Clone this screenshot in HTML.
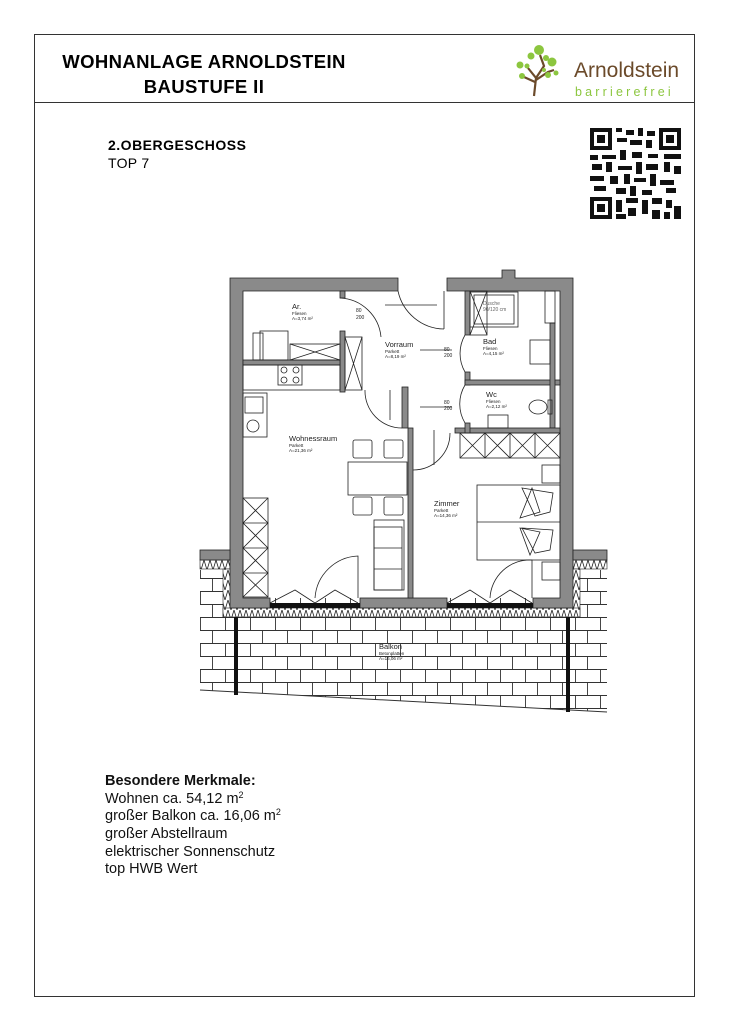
<!DOCTYPE html>
<html><head><meta charset="utf-8"><style>
html,body{margin:0;padding:0;background:#fff;}
svg{display:block;font-family:"Liberation Sans",Arial,sans-serif;}
</style></head><body>
<svg width="729" height="1030" viewBox="0 0 729 1030" xmlns="http://www.w3.org/2000/svg">
<defs>
<pattern id="brick" x="0" y="617" width="50" height="26" patternUnits="userSpaceOnUse">
<rect width="50" height="26" fill="#fff"/>
<path d="M0 0.5H50M0 13.5H50M0.5 0V13M25.5 0V13M12.5 13V26M37.5 13V26" stroke="#333" stroke-width="0.9" fill="none"/>
</pattern>
<pattern id="zig" width="6" height="10" patternUnits="userSpaceOnUse">
<rect width="6" height="10" fill="#fff"/>
<path d="M0 0L3 10L6 0" stroke="#222" stroke-width="0.8" fill="none"/>
</pattern>
</defs>
<rect x="34.5" y="34.5" width="660" height="962" fill="none" stroke="#333" stroke-width="1"/>
<line x1="34" y1="102.5" x2="695" y2="102.5" stroke="#333" stroke-width="1"/>
<text x="204" y="68" text-anchor="middle" font-size="18.5" font-weight="bold" letter-spacing="0.4">WOHNANLAGE ARNOLDSTEIN</text>
<text x="204" y="93" text-anchor="middle" font-size="18.5" font-weight="bold" letter-spacing="0.4">BAUSTUFE II</text>
<!-- logo tree -->
<g>
<path d="M534 96 L536 78 L528 68 M536 78 L544 66 L540 55 M536 80 L548 72 L554 70 M535 82 L524 77" stroke="#6b4a2a" stroke-width="2.2" fill="none"/>
<circle cx="539" cy="50" r="5" fill="#8cc63f"/><circle cx="531" cy="56" r="3.5" fill="#8cc63f"/>
<circle cx="546" cy="58" r="3" fill="#8cc63f"/><circle cx="552" cy="62" r="4.5" fill="#8cc63f"/>
<circle cx="520" cy="65" r="3.5" fill="#8cc63f"/><circle cx="527" cy="66" r="2.5" fill="#8cc63f"/>
<circle cx="522" cy="76" r="3" fill="#8cc63f"/><circle cx="548" cy="75" r="3" fill="#8cc63f"/>
<circle cx="556" cy="73" r="2.5" fill="#8cc63f"/><circle cx="544" cy="70" r="2" fill="#8cc63f"/>
</g>
<text x="574" y="77" font-size="21" fill="#6b4a2a">Arnoldstein</text>
<text x="575" y="96" font-size="12.5" fill="#8cc63f" letter-spacing="3.2">barrierefrei</text>
<text x="108" y="150" font-size="14" font-weight="bold" letter-spacing="0.5">2.OBERGESCHOSS</text>
<text x="108" y="168" font-size="14" letter-spacing="0.3">TOP 7</text>
<!-- QR -->
<g fill="#111">
<rect x="590" y="128" width="22" height="22"/><rect x="594" y="132" width="14" height="14" fill="#fff"/><rect x="597" y="135" width="8" height="8"/>
<rect x="659" y="128" width="22" height="22"/><rect x="663" y="132" width="14" height="14" fill="#fff"/><rect x="666" y="135" width="8" height="8"/>
<rect x="590" y="197" width="22" height="22"/><rect x="594" y="201" width="14" height="14" fill="#fff"/><rect x="597" y="204" width="8" height="8"/>
<rect x="616" y="128" width="6" height="4"/><rect x="626" y="130" width="8" height="5"/><rect x="638" y="128" width="5" height="8"/><rect x="647" y="131" width="8" height="5"/>
<rect x="617" y="138" width="10" height="4"/><rect x="630" y="140" width="12" height="5"/><rect x="646" y="140" width="6" height="8"/>
<rect x="590" y="155" width="8" height="5"/><rect x="602" y="155" width="14" height="4"/><rect x="620" y="150" width="6" height="10"/><rect x="632" y="152" width="10" height="6"/><rect x="648" y="154" width="10" height="4"/><rect x="664" y="154" width="17" height="5"/>
<rect x="592" y="164" width="10" height="6"/><rect x="606" y="162" width="6" height="10"/><rect x="618" y="166" width="14" height="4"/><rect x="636" y="162" width="6" height="12"/><rect x="646" y="164" width="12" height="6"/><rect x="664" y="162" width="6" height="10"/><rect x="674" y="166" width="7" height="8"/>
<rect x="590" y="176" width="14" height="5"/><rect x="610" y="176" width="8" height="8"/><rect x="624" y="174" width="6" height="10"/><rect x="634" y="178" width="12" height="4"/><rect x="650" y="174" width="6" height="12"/><rect x="660" y="180" width="14" height="5"/>
<rect x="594" y="186" width="12" height="5"/><rect x="616" y="188" width="10" height="6"/><rect x="630" y="186" width="6" height="10"/><rect x="642" y="190" width="10" height="5"/><rect x="666" y="188" width="10" height="5"/>
<rect x="616" y="200" width="6" height="12"/><rect x="626" y="198" width="12" height="5"/><rect x="628" y="208" width="8" height="8"/><rect x="642" y="200" width="6" height="14"/><rect x="652" y="198" width="10" height="6"/><rect x="652" y="210" width="8" height="9"/><rect x="666" y="200" width="6" height="8"/><rect x="674" y="206" width="7" height="13"/><rect x="616" y="214" width="10" height="5"/><rect x="664" y="212" width="6" height="7"/>
</g>
<!-- Balcony bricks -->
<polygon points="200,570 607,570 607,712 200,690" fill="url(#brick)"/>
<rect x="243" y="291" width="317" height="307" fill="#fff"/>
<line x1="200" y1="690" x2="607" y2="712" stroke="#333" stroke-width="1"/>
<!-- insulation strips -->
<rect x="200" y="560" width="30" height="9" fill="url(#zig)" stroke="#222" stroke-width="0.6"/>
<rect x="573" y="560" width="34" height="9" fill="url(#zig)" stroke="#222" stroke-width="0.6"/>
<rect x="223" y="569" width="8" height="48" fill="url(#zig)" stroke="#222" stroke-width="0.6"/>
<rect x="572" y="569" width="8" height="48" fill="url(#zig)" stroke="#222" stroke-width="0.6"/>
<rect x="223" y="608" width="357" height="9" fill="url(#zig)" stroke="#222" stroke-width="0.6"/>
<!-- posts -->
<rect x="234" y="617" width="4" height="78" fill="#111"/>
<rect x="566" y="617" width="4" height="95" fill="#111"/>
<!-- walls -->
<g fill="#8a8a8a" stroke="#222" stroke-width="0.8">
<path d="M230 278 H398 V291 H243 V598 H270 V608 H230 Z"/>
<path d="M447 278 H502 V270 H515 V278 H573 V608 H533 V598 H560 V291 H447 Z"/>
<rect x="360" y="598" width="87" height="10"/>
<rect x="200" y="550" width="30" height="10"/>
<rect x="573" y="550" width="34" height="10"/>
<rect x="408" y="428" width="5" height="170"/>
<rect x="402" y="387" width="6" height="41"/>
<rect x="340" y="331" width="5" height="61"/>
<rect x="243" y="360" width="97" height="5"/>
<rect x="465" y="291" width="5" height="44"/>
<rect x="465" y="372" width="5" height="13"/>
<rect x="465" y="380" width="95" height="5"/>
<rect x="550" y="323" width="5" height="105"/>
<rect x="455" y="428" width="105" height="5"/>
<rect x="465" y="423" width="5" height="10"/>
<rect x="340" y="291" width="5" height="7"/>
</g>
<!-- windows -->
<rect x="270" y="603" width="90" height="5" fill="#111"/>
<rect x="447" y="603" width="86" height="5" fill="#111"/>
<g fill="none" stroke="#222" stroke-width="0.8">
<rect x="345" y="337" width="17" height="53"/><path d="M345 337L362 390M362 337L345 390"/>
<rect x="290" y="344" width="50" height="16"/><path d="M290 344L340 360M340 344L290 360"/>
<rect x="253" y="333" width="10" height="27"/><rect x="260" y="331" width="28" height="29"/>
<rect x="243" y="365" width="97" height="25"/>
<rect x="278" y="365" width="24" height="20"/><circle cx="284" cy="370" r="3"/><circle cx="296" cy="370" r="3"/><circle cx="284" cy="380" r="3"/><circle cx="296" cy="380" r="3"/>
<rect x="243" y="393" width="24" height="44"/><rect x="245" y="397" width="18" height="16"/><circle cx="253" cy="426" r="6"/>
<rect x="470" y="291" width="17" height="44"/><path d="M470 291L487 335M487 291L470 335"/>
<rect x="470" y="292" width="48" height="35"/><rect x="474" y="295" width="40" height="29"/>
<rect x="545" y="291" width="10" height="32"/>
<rect x="530" y="340" width="20" height="24"/>
<ellipse cx="538" cy="407" rx="9" ry="7"/><rect x="548" y="400" width="4" height="14"/>
<rect x="488" y="415" width="20" height="13"/>
<rect x="460" y="433" width="100" height="25"/>
<path d="M460 433L485 458M485 433L460 458M485 433L510 458M510 433L485 458M510 433L535 458M535 433L510 458M535 433L560 458M560 433L535 458M485 433V458M510 433V458M535 433V458"/>
<rect x="542" y="465" width="18" height="18"/><rect x="542" y="562" width="18" height="18"/>
<rect x="477" y="485" width="83" height="75"/><line x1="477" y1="522" x2="560" y2="522"/>
<path d="M522 488L553 493L550 512L535 516Z M532 488L520 518L540 512Z"/>
<path d="M522 528L553 530L550 550L535 553Z M520 528L530 555L540 532Z"/>
<rect x="348" y="462" width="59" height="33"/>
<rect x="353" y="440" width="19" height="18" rx="2"/><rect x="384" y="440" width="19" height="18" rx="2"/>
<rect x="353" y="497" width="19" height="18" rx="2"/><rect x="384" y="497" width="19" height="18" rx="2"/>
<rect x="374" y="520" width="30" height="70"/><rect x="374" y="527" width="28" height="63"/><line x1="374" y1="548" x2="402" y2="548"/><line x1="374" y1="569" x2="402" y2="569"/>
<rect x="243" y="498" width="25" height="99"/>
<path d="M243 498L268 523L243 548L268 573L243 597M268 498L243 523L268 548L243 573L268 597M243 523H268M243 548H268M243 573H268"/>
<path d="M398 291 A48 48 0 0 0 444 329 M444 329V291"/>
<path d="M340 298 A43 43 0 0 1 381 337"/>
<path d="M465 335 A37 37 0 0 0 465 372"/>
<path d="M465 385 A37 37 0 0 0 465 423"/>
<path d="M365 390 A37 37 0 0 0 402 428"/>
<path d="M413 470 A37 37 0 0 0 450 433"/>
<path d="M315 598 A45 45 0 0 1 358 556 V598"/>
<path d="M490 598 A40 40 0 0 1 532 560 V598"/>
<path d="M270 603L295 590L315 603M315 603L335 590L358 603"/>
<path d="M447 603L470 590L490 603M490 603L510 590L532 603"/>
<path d="M437 305H385M452 350H420M452 407H420M390 390V420M434 430V465"/>
</g>
<g fill="#222">
<text x="292" y="309" font-size="7.5">Ar.</text>
<text x="292" y="315" font-size="4.5">Fliesen</text><text x="292" y="320" font-size="4.5">A=3,74 m²</text>
<text x="356" y="312" font-size="5">80</text><text x="356" y="319" font-size="5">200</text>
<text x="385" y="347" font-size="7.5">Vorraum</text>
<text x="385" y="353" font-size="4.5">Parkett</text><text x="385" y="358" font-size="4.5">A=8,19 m²</text>
<text x="483" y="344" font-size="7.5">Bad</text>
<text x="483" y="350" font-size="4.5">Fliesen</text><text x="483" y="355" font-size="4.5">A=4,15 m²</text>
<text x="444" y="351" font-size="5">80</text><text x="444" y="357" font-size="5">200</text>
<text x="486" y="397" font-size="7.5">Wc</text>
<text x="486" y="403" font-size="4.5">Fliesen</text><text x="486" y="408" font-size="4.5">A=2,12 m²</text>
<text x="444" y="404" font-size="5">80</text><text x="444" y="410" font-size="5">200</text>
<text x="483" y="305" font-size="5" fill="#666">Dusche</text><text x="483" y="311" font-size="5" fill="#666">90/120 cm</text>
<text x="289" y="441" font-size="7.5">Wohnessraum</text>
<text x="289" y="447" font-size="4.5">Parkett</text><text x="289" y="452" font-size="4.5">A=21,36 m²</text>
<text x="434" y="506" font-size="7.5">Zimmer</text>
<text x="434" y="512" font-size="4.5">Parkett</text><text x="434" y="517" font-size="4.5">A=14,36 m²</text>
<text x="379" y="649" font-size="7.5">Balkon</text>
<text x="379" y="655" font-size="4.5">Betonplatten</text><text x="379" y="660" font-size="4.5">A=16,06 m²</text>
</g>
<g font-size="14.5" fill="#111">
<text x="105" y="785" font-weight="bold">Besondere Merkmale:</text>
<text x="105" y="803">Wohnen ca. 54,12 m<tspan font-size="9" dy="-5">2</tspan></text>
<text x="105" y="820">großer Balkon ca. 16,06 m<tspan font-size="9" dy="-5">2</tspan></text>
<text x="105" y="838">großer Abstellraum</text>
<text x="105" y="856">elektrischer Sonnenschutz</text>
<text x="105" y="873">top HWB Wert</text>
</g>
</svg>
</body></html>
